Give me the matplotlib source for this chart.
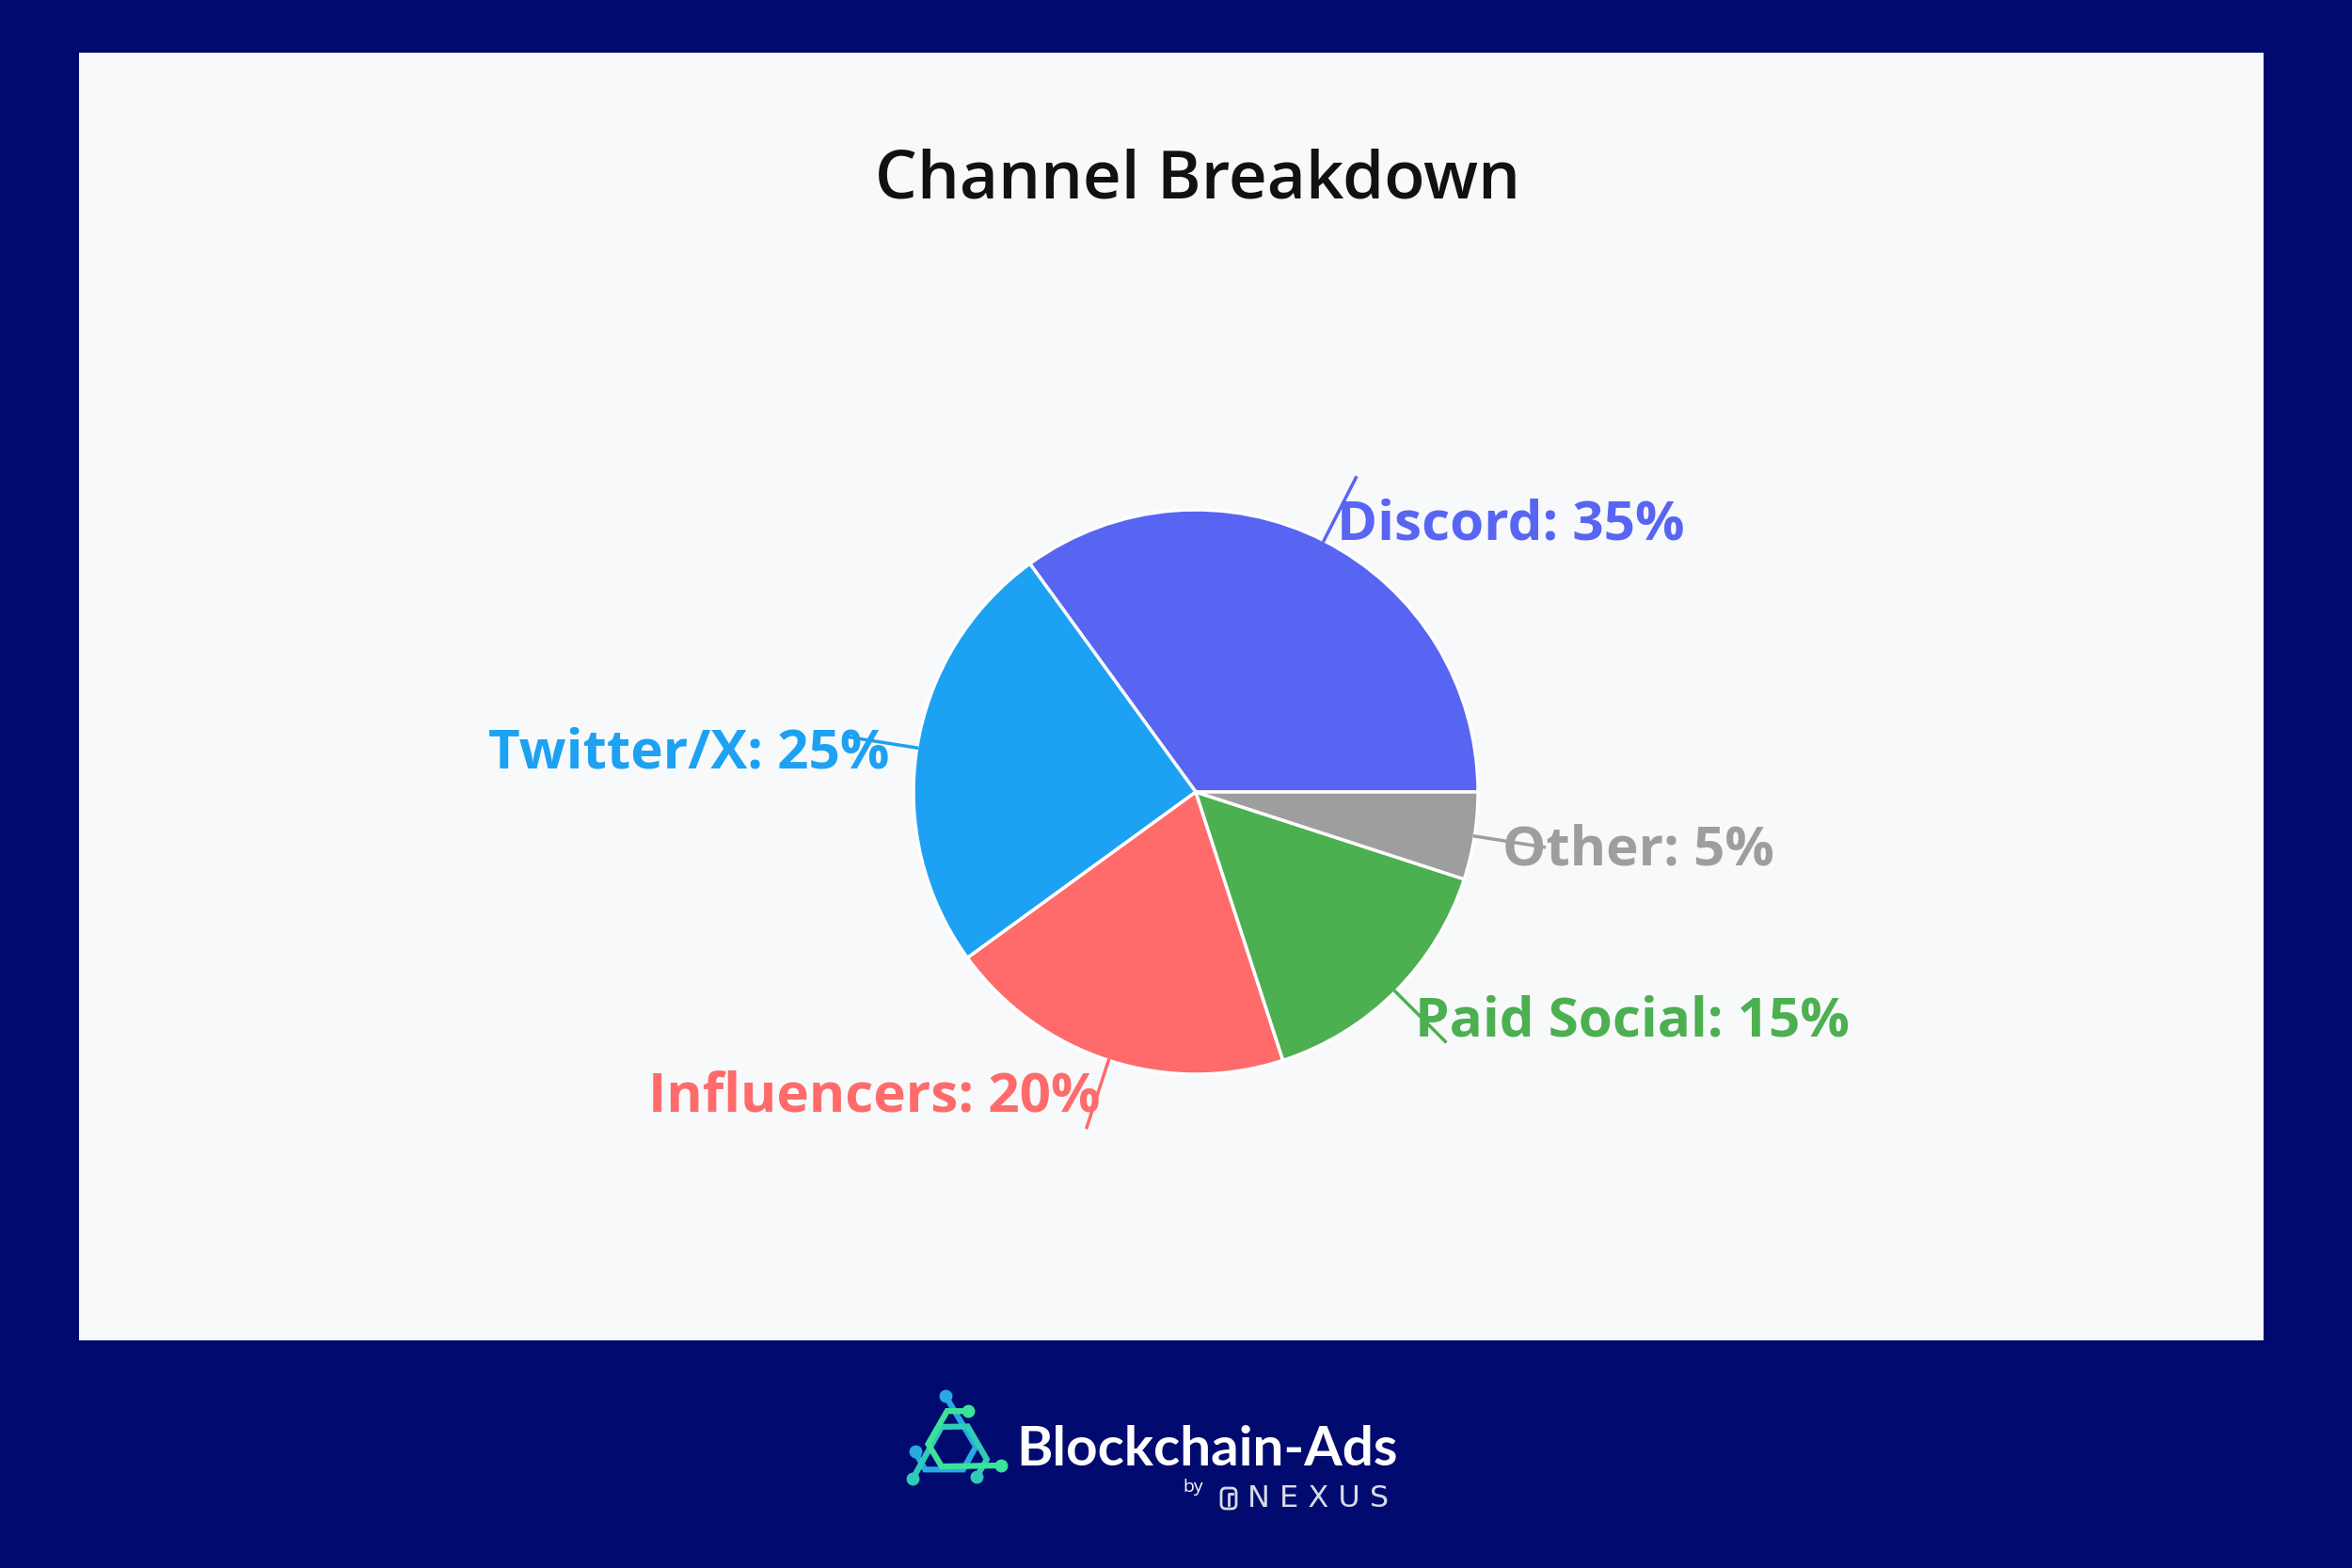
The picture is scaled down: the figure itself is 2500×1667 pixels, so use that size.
import numpy as np
import matplotlib
matplotlib.use("Agg")
import matplotlib.pyplot as plt
from matplotlib.patches import Rectangle, FancyBboxPatch

# data
channels = ["Discord", "Twitter/X", "Influencers", "Paid Social", "Other"]
shares = [35, 25, 20, 15, 5]
colors = ["#5865F2", "#1DA1F2", "#FF6B6B", "#4CAF50", "#9E9E9E"]

NAVY = "#010A6E"
PANEL = "#F8F9FB"
W, H = 2500, 1667

plt.rcParams["font.family"] = ["Open Sans", "DejaVu Sans"]

fig = plt.figure(figsize=(25, 16.67), dpi=100, facecolor=NAVY)

# background axes in pixel coords (y down)
bg = fig.add_axes([0, 0, 1, 1])
bg.set_xlim(0, W)
bg.set_ylim(H, 0)
bg.axis("off")
bg.add_patch(Rectangle((84, 56), 2322, 1369, facecolor=PANEL, edgecolor="none"))
bg.text(1273, 192, "Channel Breakdown", fontsize=51, fontweight="semibold",
        color="#111111", ha="center", va="center")

# logo
bg.text(1080, 1541, "Blockchain-Ads", fontsize=42, fontweight="bold",
        color="white", ha="left", va="center", family=["Lato", "DejaVu Sans"])
bg.text(1268, 1581, "by", fontsize=14, color="white", ha="center", va="center")
bg.text(1326, 1593, "N E X U S", fontsize=23, color="#D8DAE8", ha="left",
        va="center", family=["DejaVu Sans"])
bg.add_patch(FancyBboxPatch((1298, 1582), 16, 22, boxstyle="round,pad=0,rounding_size=5",
                            facecolor="none", edgecolor="#D8DAE8", lw=2))
bg.plot([1306, 1306, 1310], [1600, 1588, 1588], color="#D8DAE8", lw=2)

# icon: three rotated chevrons around a centre
icx, icy, s = 1013, 1538, 54
base = np.array([[-0.15, 1.0], [0.45, 0.0], [0.2, -0.45], [-0.55, -0.45], [-0.75, -0.1]])
grad = ["#27A9E1", "#2FCBB8", "#3BE39A"]
for k, c in enumerate(grad):
    a = np.deg2rad(120 * k)
    rot = np.array([[np.cos(a), -np.sin(a)], [np.sin(a), np.cos(a)]])
    p = base @ rot.T
    xs = icx + s * p[:, 0]
    ys = icy - s * p[:, 1]
    bg.plot(xs, ys, color=c, lw=4.5, solid_capstyle="round", solid_joinstyle="miter")
    bg.plot(xs[0], ys[0], "o", color=c, ms=9)
    bg.plot(xs[-1], ys[-1], "o", color=c, ms=9)

# pie axes: radius 1 -> 300 px, centre at (1271, 842)
R = 300
cx, cy = 1271, 842
ax = fig.add_axes([(cx - 2 * R) / W, (H - cy - 2 * R) / H, 4 * R / W, 4 * R / H])

wedges, texts = ax.pie(shares, colors=colors, startangle=0, counterclock=True,
                       radius=1, labeldistance=1.1,
                       labels=[f"{c}: {s}%" for c, s in zip(channels, shares)],
                       wedgeprops=dict(edgecolor="white", linewidth=2.5),
                       textprops=dict(fontsize=42, fontweight="bold"))
for w, t, c in zip(wedges, texts, colors):
    t.set_color(c)
    tx, ty = t.get_position()
    t.set_position((tx, ty - 0.036))
    mid = np.deg2rad((w.theta1 + w.theta2) / 2)
    ax.plot([np.cos(mid), 1.25 * np.cos(mid)], [np.sin(mid), 1.25 * np.sin(mid)],
            color=c, lw=2.5, zorder=5)
ax.set_xlim(-2, 2)
ax.set_ylim(-2, 2)
ax.set_aspect("auto")
ax.axis("off")

fig.savefig("out.png", dpi=100, facecolor=NAVY)
